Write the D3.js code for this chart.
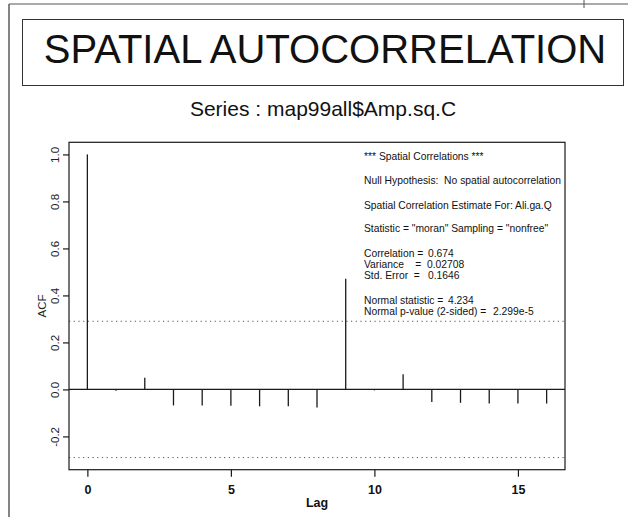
<!DOCTYPE html>
<html>
<head>
<meta charset="utf-8">
<script src="https://cdn.jsdelivr.net/npm/d3@7/dist/d3.min.js"></script>
<style>
  html, body { margin: 0; padding: 0; background: #fff; }
  svg { display: block; font-family: "Liberation Sans", Arial, Helvetica, sans-serif; }
  .pre { white-space: pre; }
</style>
</head>
<body>
<svg id="chart" width="628" height="517"></svg>
<script>
// ---- data ----
const mainTitle = "SPATIAL AUTOCORRELATION";
const subTitle = "Series : map99all$Amp.sq.C";
const lags = [0, 1, 2, 3, 4, 5, 6, 7, 8, 9, 10, 11, 12, 13, 14, 15, 16];
const acfValues = [1.0, -0.006, 0.05, -0.068, -0.068, -0.07, -0.072, -0.072, -0.077,
                   0.471, -0.004, 0.065, -0.054, -0.057, -0.06, -0.06, -0.06];
const confBound = 0.29;
const xTicks = [0, 5, 10, 15];
const yTicks = [-0.2, 0.0, 0.2, 0.4, 0.6, 0.8, 1.0];
const xLabel = "Lag";
const yLabel = "ACF";
const infoLines = [
  "*** Spatial Correlations ***",
  "Null Hypothesis:  No spatial autocorrelation",
  "Spatial Correlation Estimate For: Ali.ga.Q",
  "Statistic = \"moran\" Sampling = \"nonfree\""
];
const statLabels = ["Correlation =", "Variance    =", "Std. Error  =", "Normal statistic =", "Normal p-value (2-sided) ="];
const statValues = ["0.674", "0.02708", "0.1646", "4.234", "2.299e-5"];

// ---- layout ----
const svg = d3.select("#chart");
const plot = { left: 69, right: 565, top: 142.3, bottom: 469.7 };
const ink = "#1a1a1a";

// page border fragments (scan)
svg.append("line").attr("x1", 9).attr("x2", 9).attr("y1", 4).attr("y2", 517)
  .attr("stroke", "#333").attr("stroke-width", 1.2);
svg.append("line").attr("x1", 9).attr("x2", 628).attr("y1", 4).attr("y2", 4)
  .attr("stroke", "#555").attr("stroke-width", 1);
svg.append("line").attr("x1", 584).attr("x2", 584).attr("y1", 0).attr("y2", 8)
  .attr("stroke", "#555").attr("stroke-width", 1);

// title box
svg.append("rect").attr("x", 22.5).attr("y", 19.5).attr("width", 601).attr("height", 66)
  .attr("fill", "none").attr("stroke", "#333").attr("stroke-width", 1);
svg.append("text").attr("x", 325).attr("y", 63).attr("text-anchor", "middle")
  .attr("font-size", 40).attr("fill", "#111").text(mainTitle);
svg.append("text").attr("x", 323).attr("y", 116).attr("text-anchor", "middle")
  .attr("font-size", 21).attr("fill", "#111").text(subTitle);

// scales (R style 4% expansion)
const xMin = d3.min(lags), xMax = d3.max(lags);
const xPad = (xMax - xMin) * 0.04;
const x = d3.scaleLinear().domain([xMin - xPad, xMax + xPad]).range([plot.left, plot.right]);
const yLo = Math.min(d3.min(acfValues), -confBound), yHi = Math.max(d3.max(acfValues), confBound);
const yPad = (yHi - yLo) * 0.04;
const y = d3.scaleLinear().domain([yLo - yPad, yHi + yPad]).range([plot.bottom, plot.top]);

// confidence lines
[confBound, -confBound].forEach(c => {
  svg.append("line").attr("x1", plot.left).attr("x2", plot.right)
    .attr("y1", y(c)).attr("y2", y(c))
    .attr("stroke", "#555").attr("stroke-width", 1).attr("stroke-dasharray", "1.2,3.5");
});

// zero line
svg.append("line").attr("x1", plot.left).attr("x2", plot.right)
  .attr("y1", y(0)).attr("y2", y(0)).attr("stroke", ink).attr("stroke-width", 1.2);

// ACF spikes
svg.append("g").selectAll("line").data(lags).join("line")
  .attr("x1", d => x(d)).attr("x2", d => x(d))
  .attr("y1", y(0)).attr("y2", (d, i) => y(acfValues[i]))
  .attr("stroke", ink).attr("stroke-width", 1.3);

// plot box
svg.append("rect").attr("x", plot.left).attr("y", plot.top)
  .attr("width", plot.right - plot.left).attr("height", plot.bottom - plot.top)
  .attr("fill", "none").attr("stroke", ink).attr("stroke-width", 1.2);

// x axis
const gx = svg.append("g").attr("transform", `translate(0,${plot.bottom})`)
  .call(d3.axisBottom(x).tickValues(xTicks).tickFormat(d3.format("d")).tickSize(7).tickSizeOuter(0));
gx.select(".domain").remove();
gx.selectAll(".tick line").attr("stroke", ink).attr("stroke-width", 1.2);
gx.selectAll(".tick text").attr("y", 24).attr("dy", 0).attr("font-size", 12.5)
  .attr("font-weight", "bold").attr("fill", "#111").attr("font-family", "Liberation Sans, Arial, sans-serif");

// y axis
const gy = svg.append("g").attr("transform", `translate(${plot.left},0)`)
  .call(d3.axisLeft(y).tickValues(yTicks).tickFormat(d3.format(".1f")).tickSize(6).tickSizeOuter(0));
gy.select(".domain").remove();
gy.selectAll(".tick line").attr("stroke", ink).attr("stroke-width", 1.2);
gy.selectAll(".tick text")
  .attr("transform", "rotate(-90)").attr("x", 0).attr("y", -10).attr("dy", 0)
  .attr("text-anchor", "middle").attr("font-size", 11.5).attr("fill", "#222")
  .attr("font-family", "Liberation Sans, Arial, sans-serif")
  .text(d => d3.format(".1f")(d).replace("\u2212", "-"));

// axis titles
svg.append("text").attr("x", (plot.left + plot.right) / 2).attr("y", 507)
  .attr("text-anchor", "middle").attr("font-size", 12.5).attr("font-weight", "bold")
  .attr("fill", "#111").text(xLabel);
svg.append("text").attr("transform", `translate(46,${(plot.top + plot.bottom) / 2}) rotate(-90)`)
  .attr("text-anchor", "middle").attr("font-size", 11.5).attr("fill", "#222").text(yLabel);

// info text block
const info = svg.append("g").attr("font-size", 10.3).attr("fill", "#111");
const infoY = [160, 183.5, 208.5, 232];
infoLines.forEach((t, i) => {
  info.append("text").attr("class", "pre").attr("x", 364).attr("y", infoY[i]).text(t);
});
const statY = [256.7, 267.5, 278.7, 304, 315];
const statValX = [428, 427, 428, 448, 493];
statLabels.forEach((t, i) => {
  info.append("text").attr("class", "pre").attr("x", 364).attr("y", statY[i]).text(t);
  info.append("text").attr("x", statValX[i]).attr("y", statY[i]).text(statValues[i]);
});
</script>
</body>
</html>
